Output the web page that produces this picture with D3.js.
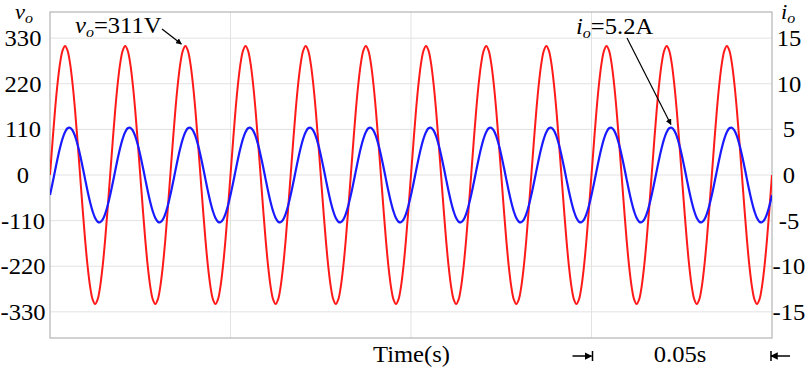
<!DOCTYPE html>
<html>
<head>
<meta charset="utf-8">
<script src="https://cdn.jsdelivr.net/npm/d3@7"></script>
<style>
  body { margin: 0; background: #fff; }
  text { font-family: "Liberation Serif", "Times New Roman", serif; fill: #000; }
</style>
</head>
<body>
<div id="root"></div>
<script>
// Data
const period = 1 / 60;          // 60 Hz, 12 cycles in 0.2 s
const cycles = 12;
// one cycle of vo (V), sampled every 15 degrees
const voltageCycle = [0, 80, 156, 220, 269, 300, 311, 300, 269, 220, 156, 80,
  0, -80, -156, -220, -269, -300, -311, -300, -269, -220, -156, -80];
// one cycle of io (A), same sample times (lags vo by ~25 degrees)
const currentCycle = [-2.20, -0.90, 0.45, 1.78, 2.98, 3.98, 4.71, 5.12, 5.18, 4.89, 4.26, 3.34,
  2.20, 0.90, -0.45, -1.78, -2.98, -3.98, -4.71, -5.12, -5.18, -4.89, -4.26, -3.34];
const voltageTicks = [330, 220, 110, 0, -110, -220, -330];
const currentTicks = [15, 10, 5, 0, -5, -10, -15];
const timeGrid = [0.05, 0.1, 0.15];

// Layout
const width = 809;
const height = 369;
const plotLeft = 50, plotRight = 772, plotTop = 12, plotBottom = 338;
const fontSize = 23;
const stretch = 1.07;   // text in the picture is a bit wider than plain Times

const svg = d3.select('#root')
  .append('svg')
  .attr('width', width)
  .attr('height', height);

const x = d3.scaleLinear().domain([0, period * cycles]).range([plotLeft, plotRight]);
const yV = d3.scaleLinear().domain([-393, 393]).range([plotBottom, plotTop]);
const yI = d3.scaleLinear().domain([-393 / 22, 393 / 22]).range([plotBottom, plotTop]);

// Build the sampled series by tiling the recorded cycle
const n = voltageCycle.length;
const samples = [];
for (let c = 0; c < cycles; c++) {
  for (let k = 0; k < n; k++) {
    samples.push({t: (c + k / n) * period, v: voltageCycle[k], i: currentCycle[k]});
  }
}
samples.push({t: cycles * period, v: voltageCycle[0], i: currentCycle[0]});

/**
 * Place a stretched text at a point
 */
function label(parent, xPos, yPos, anchor, size) {
  return parent.append('text')
    .attr('transform', `translate(${xPos},${yPos}) scale(${stretch},1)`)
    .attr('text-anchor', anchor || 'start')
    .style('font-size', (size || fontSize) + 'px');
}

// Grid
svg.append('g')
  .selectAll('line')
  .data(voltageTicks)
  .enter()
    .append('line')
    .attr('x1', plotLeft).attr('x2', plotRight)
    .attr('y1', d => yV(d)).attr('y2', d => yV(d))
    .attr('stroke', '#e2e2e2')
    .attr('stroke-width', 1);

svg.append('g')
  .selectAll('line')
  .data(timeGrid)
  .enter()
    .append('line')
    .attr('x1', d => x(d)).attr('x2', d => x(d))
    .attr('y1', plotTop).attr('y2', plotBottom)
    .attr('stroke', '#e2e2e2')
    .attr('stroke-width', 1);

// Frame
svg.append('rect')
  .attr('x', plotLeft).attr('y', plotTop)
  .attr('width', plotRight - plotLeft).attr('height', plotBottom - plotTop)
  .attr('fill', 'none')
  .attr('stroke', '#b4b4b4')
  .attr('stroke-width', 1.2);

// Waveforms
svg.append('clipPath').attr('id', 'plot')
  .append('rect')
  .attr('x', plotLeft).attr('y', plotTop)
  .attr('width', plotRight - plotLeft).attr('height', plotBottom - plotTop);

svg.append('path')
  .datum(samples)
  .attr('clip-path', 'url(#plot)')
  .attr('fill', 'none')
  .attr('stroke', '#ff1a1a')
  .attr('stroke-width', 2)
  .attr('d', d3.line().x(d => x(d.t)).y(d => yV(d.v)).curve(d3.curveCatmullRom));

svg.append('path')
  .datum(samples)
  .attr('clip-path', 'url(#plot)')
  .attr('fill', 'none')
  .attr('stroke', '#1a1aff')
  .attr('stroke-width', 2.2)
  .attr('d', d3.line().x(d => x(d.t)).y(d => yI(d.i)).curve(d3.curveCatmullRom));

// Axis labels
voltageTicks.forEach(d => label(svg, 23, yV(d) + 8, 'middle').text(d));
currentTicks.forEach(d => label(svg, 789, yI(d) + 8, 'middle').text(d));

// Axis titles
function subscripted(xPos, yPos, base, sub, rest, size) {
  const t = label(svg, xPos, yPos, 'start', size);
  t.append('tspan').style('font-style', 'italic').text(base);
  t.append('tspan').style('font-style', 'italic').style('font-size', '15px').attr('dy', 4).text(sub);
  if (rest) t.append('tspan').attr('dy', -4).text(rest);
  return t;
}

subscripted(15, 19, 'v', 'o', null, 21);
subscripted(781, 19, 'i', 'o', null, 21);

// Annotations
svg.append('defs').append('marker')
  .attr('id', 'head')
  .attr('viewBox', '0 0 10 10')
  .attr('refX', 9).attr('refY', 5)
  .attr('markerWidth', 5).attr('markerHeight', 5)
  .attr('orient', 'auto')
  .append('path')
    .attr('d', 'M0,0L10,5L0,10z')
    .attr('fill', '#000');

subscripted(75, 33, 'v', 'o', '=311V');
svg.append('line')
  .attr('x1', 162).attr('y1', 29)
  .attr('x2', x(2.25 * period) - 4).attr('y2', yV(311) - 2)
  .attr('stroke', '#000').attr('stroke-width', 1.2)
  .attr('marker-end', 'url(#head)');

subscripted(576, 34, 'i', 'o', '=5.2A');
svg.append('line')
  .attr('x1', 627).attr('y1', 38)
  .attr('x2', x(10.32 * period)).attr('y2', yI(5.2) - 3)
  .attr('stroke', '#000').attr('stroke-width', 1.2)
  .attr('marker-end', 'url(#head)');

// Time label and 0.05 s scale
label(svg, 373, 362).text('Time(s)');
label(svg, 680, 362, 'middle').text('0.05s');

const scaleY = 356;
const g = svg.append('g').attr('stroke', '#000').attr('stroke-width', 1.5);
g.append('line').attr('x1', x(0.15) - 19).attr('x2', x(0.15)).attr('y1', scaleY).attr('y2', scaleY)
  .attr('marker-end', 'url(#head)');
g.append('line').attr('x1', x(0.15) + 1).attr('x2', x(0.15) + 1).attr('y1', scaleY - 5).attr('y2', scaleY + 5);
g.append('line').attr('x1', x(0.2) + 18).attr('x2', x(0.2) - 1).attr('y1', scaleY).attr('y2', scaleY)
  .attr('marker-end', 'url(#head)');
g.append('line').attr('x1', x(0.2) - 1).attr('x2', x(0.2) - 1).attr('y1', scaleY - 5).attr('y2', scaleY + 5);
</script>
</body>
</html>
